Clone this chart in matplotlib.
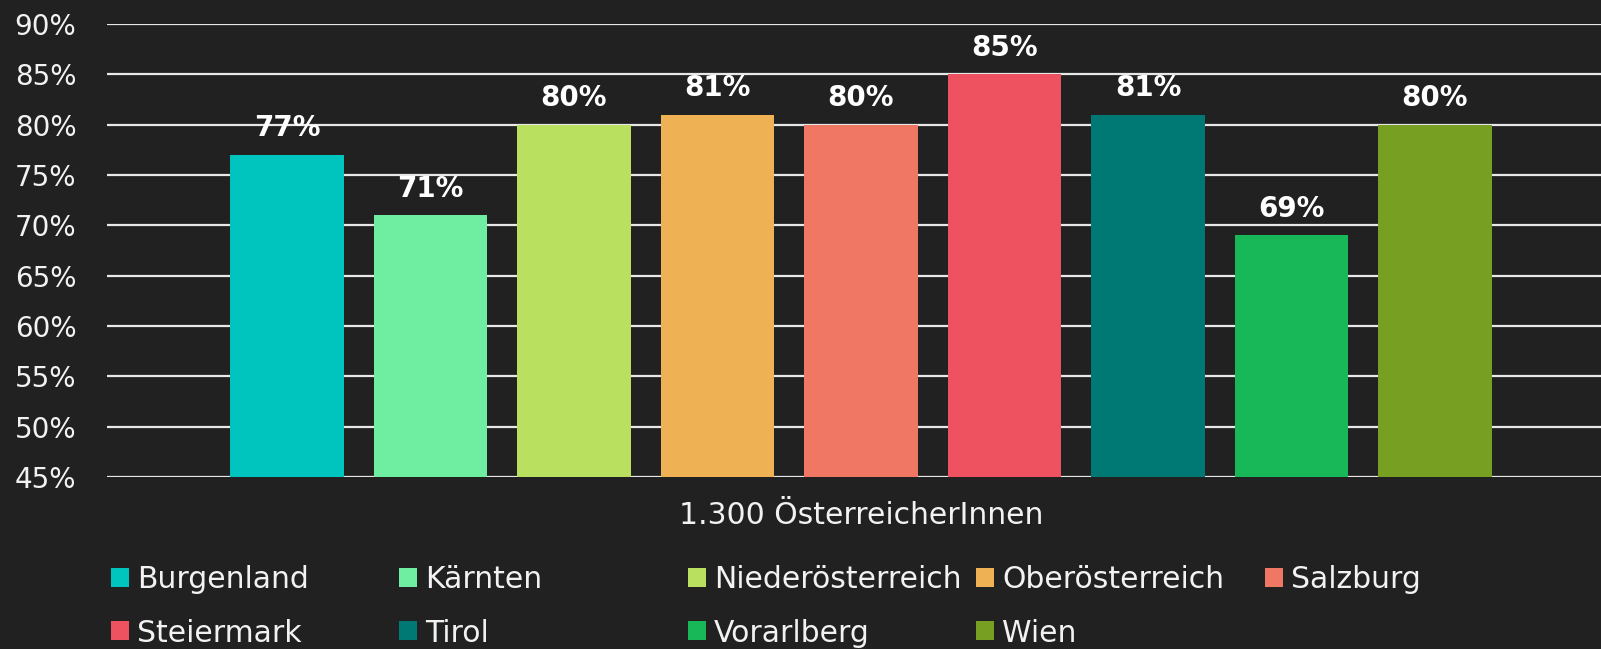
import matplotlib
matplotlib.use("Agg")
from matplotlib import pyplot as plt
from matplotlib.patches import Patch

# data
regions = ["Burgenland", "Kärnten", "Niederösterreich", "Oberösterreich", "Salzburg",
           "Steiermark", "Tirol", "Vorarlberg", "Wien"]
values = [77, 71, 80, 81, 80, 85, 81, 69, 80]
colors = ["#00C5BE", "#6FEDA0", "#BAE060", "#EEB254", "#F07763",
          "#EE515F", "#007873", "#18B758", "#779F21"]
category = "1.300 ÖsterreicherInnen"
yticks = [45, 50, 55, 60, 65, 70, 75, 80, 85, 90]

W, H = 1601, 649
bg = "#212121"
fg = "#F2F2F2"
fs = 20
lfs = 21.5

plt.rcParams['font.family'] = ['DejaVu Sans']

fig = plt.figure(figsize=(W / 100, H / 100), dpi=100, facecolor=bg)
ax = fig.add_axes([107 / W, 172 / H, 1 - 107 / W, (625 - 172) / H])
ax.set_facecolor(bg)

x = list(range(len(values)))
bars = ax.bar(x, values, width=0.79, color=colors, zorder=2)

for xi, v in zip(x, values):
    ax.annotate(f"{v}%", (xi, v), xytext=(0, 13.5), textcoords="offset points",
                ha="center", va="baseline", fontsize=fs, fontweight="bold", color="white")

ax.set_ylim(45, 90)
ax.set_xlim(-1.254, 9.157)
ax.set_yticks(yticks)
ax.set_yticklabels([f"{t}%" for t in yticks])
ax.set_xticks([4])
ax.set_xticklabels([category])
ax.tick_params(axis="y", length=0, pad=22, labelsize=fs, labelcolor=fg)
ax.tick_params(axis="x", length=0, pad=17, labelsize=lfs, labelcolor=fg)
ax.grid(axis="y", color="#E8E8E8", linewidth=1.6, zorder=1)
ax.set_axisbelow(True)
for s in ax.spines.values():
    s.set_visible(False)

# legend: 5 equal columns, 2 rows
col_x = [111, 399, 688, 976, 1265]
row_y = [580, 633]
for i, (name, c) in enumerate(zip(regions, colors)):
    cx = col_x[i % 5]
    cy = row_y[i // 5]
    fig.legend(handles=[Patch(facecolor=c, edgecolor="none")], labels=[name],
               loc="center left", bbox_to_anchor=(cx / W, 1 - cy / H),
               frameon=False, fontsize=lfs, labelcolor=fg, borderpad=0,
               borderaxespad=0, handlelength=0.6, handleheight=0.6,
               handletextpad=0.27)

fig.savefig("out.png", facecolor=bg)
